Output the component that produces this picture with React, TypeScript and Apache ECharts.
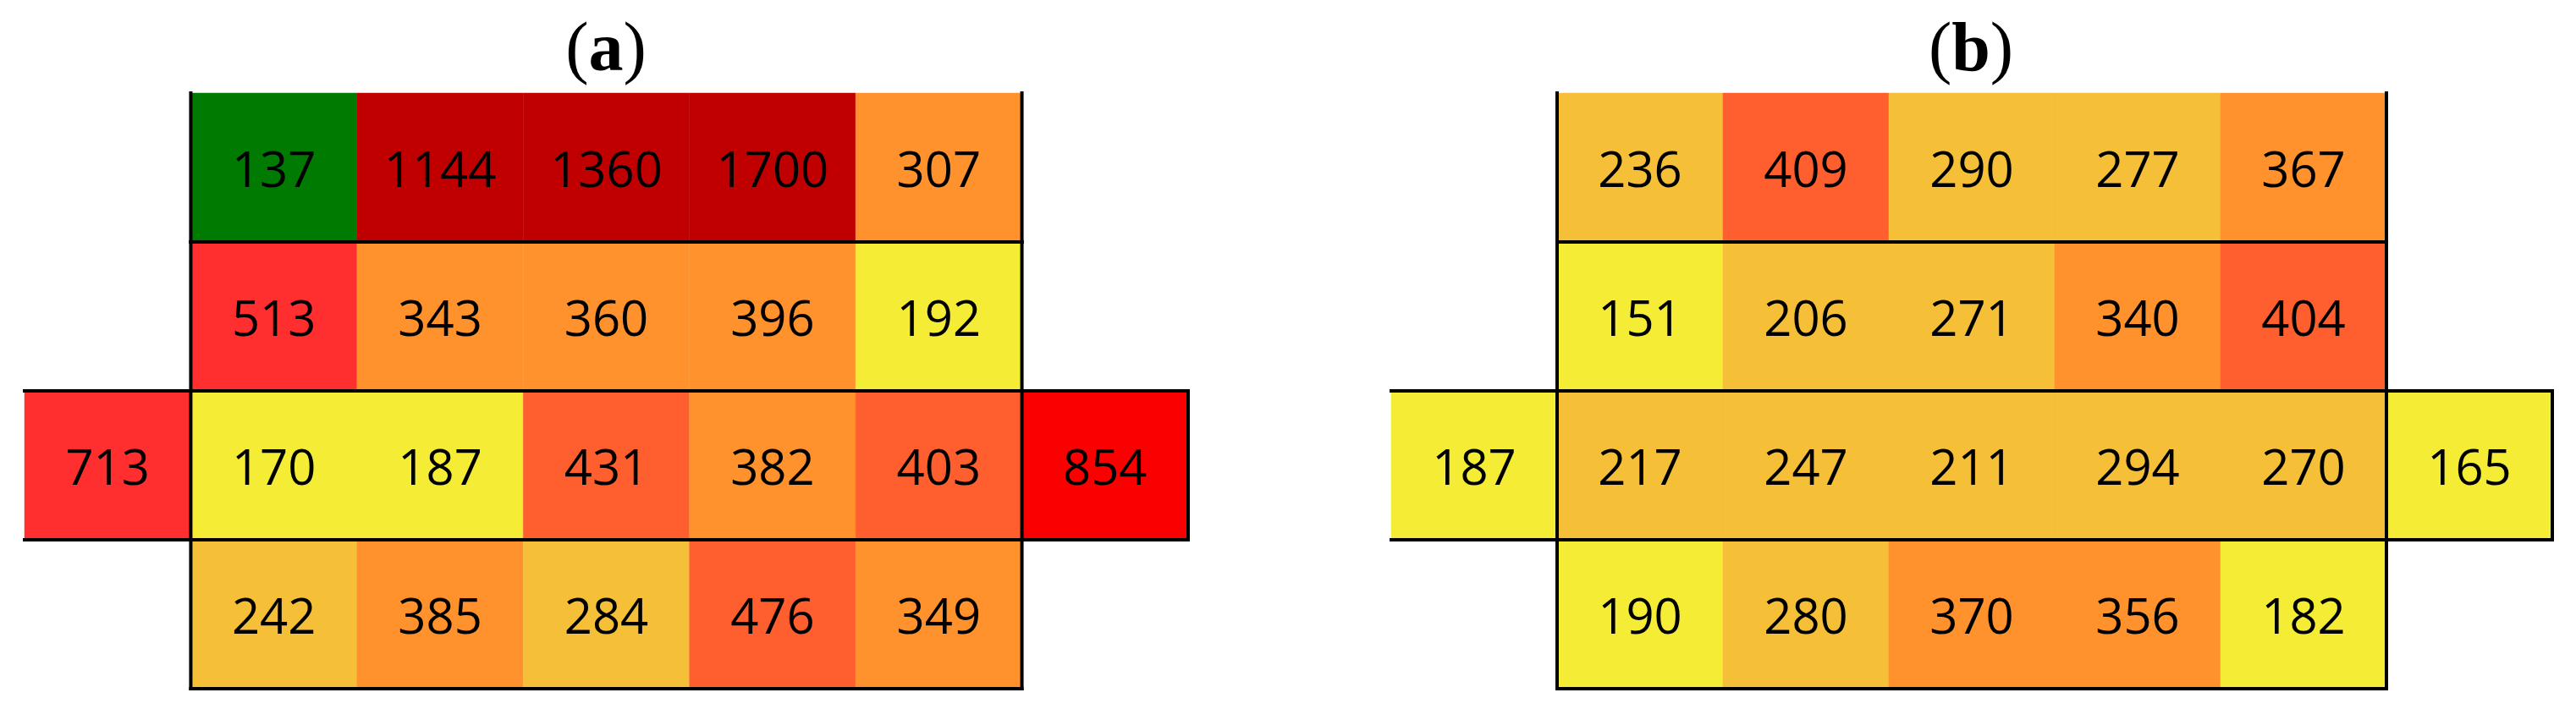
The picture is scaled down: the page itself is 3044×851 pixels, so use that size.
import React, { useEffect, useRef } from "react";
import * as echarts from "echarts";

// Column keys: 0 = left extra cell, 1..5 = main block, 6 = right extra cell
const columnKeys = ["W", "C1", "C2", "C3", "C4", "C5", "E"];
const rowKeys = ["R1", "R2", "R3", "R4"];

// Panel (a) values by row (null = no cell)
const panelARow1 = [null, 137, 1144, 1360, 1700, 307, null];
const panelARow2 = [null, 513, 343, 360, 396, 192, null];
const panelARow3 = [713, 170, 187, 431, 382, 403, 854];
const panelARow4 = [null, 242, 385, 284, 476, 349, null];

// Panel (b) values by row
const panelBRow1 = [null, 236, 409, 290, 277, 367, null];
const panelBRow2 = [null, 151, 206, 271, 340, 404, null];
const panelBRow3 = [187, 217, 247, 211, 294, 270, 165];
const panelBRow4 = [null, 190, 280, 370, 356, 182, null];

const panelTitles = ["a", "b"];

// Colour classes (value thresholds)
const colourPieces = [
  { lt: 150, color: "#007A00" },
  { gte: 150, lt: 200, color: "#F5EC36" },
  { gte: 200, lt: 300, color: "#F5BF38" },
  { gte: 300, lt: 400, color: "#FF922D" },
  { gte: 400, lt: 500, color: "#FF5F2E" },
  { gte: 500, lt: 800, color: "#FF2F2F" },
  { gte: 800, lt: 1000, color: "#FA0000" },
  { gte: 1000, color: "#C00000" },
];

function toCells(rows: (number | null)[][]) {
  const out: number[][] = [];
  rows.forEach((row, r) => {
    row.forEach((v, c) => {
      if (v !== null && v !== undefined) out.push([c, r, v]);
    });
  });
  return out;
}

const cellsA = toCells([panelARow1, panelARow2, panelARow3, panelARow4]);
const cellsB = toCells([panelBRow1, panelBRow2, panelBRow3, panelBRow4]);

const fillRender = (params: any, api: any) => {
  const col = api.value(0);
  const row = api.value(1);
  const val = api.value(2);
  const c = api.coord([col, row]);
  const s = api.size([1, 1]);
  return {
    type: "group",
    children: [
      {
        type: "rect",
        shape: { x: c[0] - s[0] / 2, y: c[1] - s[1] / 2, width: s[0], height: s[1] },
        style: { fill: api.visual("color"), stroke: api.visual("color"), lineWidth: 0.5 },
      },
      {
        type: "text",
        style: {
          text: String(val),
          x: c[0],
          y: c[1],
          align: "center",
          verticalAlign: "middle",
          fill: "#000000",
          font: "normal 58px 'Open Sans', sans-serif",
        },
        z2: 10,
      },
    ],
  };
};

const lastCol = columnKeys.length - 1;
const borderRender = (params: any, api: any) => {
  const col = api.value(0);
  const row = api.value(1);
  const c = api.coord([col, row]);
  const s = api.size([1, 1]);
  const x0 = c[0] - s[0] / 2;
  const x1 = c[0] + s[0] / 2;
  const y0 = c[1] - s[1] / 2;
  const y1 = c[1] + s[1] / 2;
  const isExtra = col === 0 || col === lastCol;
  const ls = { stroke: "#000000", lineWidth: 4, lineCap: "square" };
  const children: any[] = [];
  children.push({ type: "line", shape: { x1: x0, y1: y1, x2: x1, y2: y1 }, style: ls });
  if (isExtra) children.push({ type: "line", shape: { x1: x0, y1: y0, x2: x1, y2: y0 }, style: ls });
  if (col === 1) children.push({ type: "line", shape: { x1: x0, y1: y0, x2: x0, y2: y1 }, style: ls });
  if (col === lastCol - 1 || col === lastCol)
    children.push({ type: "line", shape: { x1: x1, y1: y0, x2: x1, y2: y1 }, style: ls });
  return { type: "group", children };
};

export default function App() {
  const ref = useRef<HTMLDivElement>(null);
  useEffect(() => {
    if (!ref.current) return;
    const chart = echarts.init(ref.current, null, { renderer: "svg" });
    const titleFor = (t: string) => `{p|(}{b|${t}}{p|)}`;
    const titleRich = {
      p: { fontFamily: "'Liberation Serif', serif", fontSize: 82, fontWeight: "normal", color: "#000" },
      b: { fontFamily: "'Liberation Serif', serif", fontSize: 82, fontWeight: "bold", color: "#000" },
    };
    chart.setOption({
      animation: false,
      backgroundColor: "#ffffff",
      title: [
        {
          text: titleFor(panelTitles[0]),
          left: 716,
          top: 14,
          textAlign: "center",
          padding: 0,
          textStyle: { rich: titleRich, fontSize: 82 },
        },
        {
          text: titleFor(panelTitles[1]),
          left: 2329,
          top: 14,
          textAlign: "center",
          padding: 0,
          textStyle: { rich: titleRich, fontSize: 82 },
        },
      ],
      grid: [
        { left: 29, top: 110, width: 1375, height: 704 },
        { left: 1644, top: 110, width: 1372, height: 704 },
      ],
      xAxis: [
        { type: "category", data: columnKeys, gridIndex: 0, show: false },
        { type: "category", data: columnKeys, gridIndex: 1, show: false },
      ],
      yAxis: [
        { type: "category", data: rowKeys, gridIndex: 0, inverse: true, show: false },
        { type: "category", data: rowKeys, gridIndex: 1, inverse: true, show: false },
      ],
      visualMap: {
        type: "piecewise",
        show: false,
        dimension: 2,
        seriesIndex: [0, 2],
        pieces: colourPieces,
      },
      series: [
        { type: "custom", xAxisIndex: 0, yAxisIndex: 0, data: cellsA, renderItem: fillRender, z: 1 },
        { type: "custom", xAxisIndex: 0, yAxisIndex: 0, data: cellsA, renderItem: borderRender, z: 5, silent: true },
        { type: "custom", xAxisIndex: 1, yAxisIndex: 1, data: cellsB, renderItem: fillRender, z: 1 },
        { type: "custom", xAxisIndex: 1, yAxisIndex: 1, data: cellsB, renderItem: borderRender, z: 5, silent: true },
      ],
    });
    return () => chart.dispose();
  }, []);
  return (
    <div
      ref={ref}
      style={{ position: "fixed", left: 0, top: 0, width: 3044, height: 851, background: "#fff" }}
    />
  );
}
